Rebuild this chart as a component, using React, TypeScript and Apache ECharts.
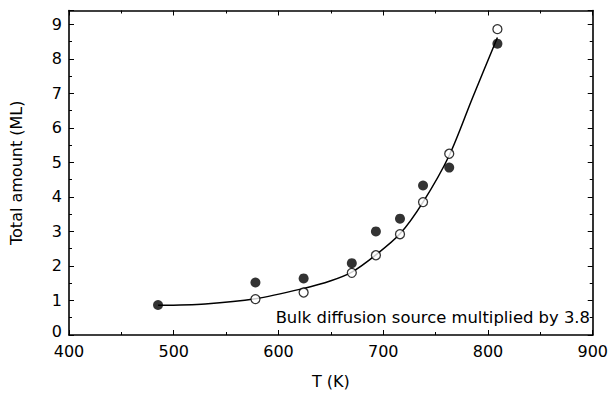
import React, { useEffect, useRef } from "react";
import * as echarts from "echarts";

const filledT = [485, 578, 624, 670, 693, 716, 738, 763, 809];
const filledY = [0.87, 1.52, 1.64, 2.08, 3.0, 3.37, 4.33, 4.85, 8.44];
const openT = [578, 624, 670, 693, 716, 738, 763, 809];
const openY = [1.04, 1.23, 1.8, 2.31, 2.92, 3.85, 5.25, 8.86];
const curveT = [485, 530, 578, 624, 650, 670, 693, 716, 738, 763, 785, 809];
const curveY = [0.86, 0.9, 1.05, 1.35, 1.57, 1.82, 2.32, 2.93, 3.85, 5.2, 6.85, 8.62];
const xTickValues = [400, 500, 600, 700, 800, 900];
const yTickValues = [0, 1, 2, 3, 4, 5, 6, 7, 8, 9];
const annotation = "Bulk diffusion source multiplied by 3.8";

const FONT = "'DejaVu Sans', Verdana, sans-serif";

export default function App() {
  const ref = useRef<HTMLDivElement>(null);
  useEffect(() => {
    if (!ref.current) return;
    const chart = echarts.init(ref.current, undefined, { renderer: "svg" });
    const lineStyle = { color: "#000", width: 1.6 };
    const baseX = {
      type: "value" as const,
      min: 400,
      max: 900,
      interval: 100,
      axisLine: { show: true, onZero: false, lineStyle },
      axisTick: { show: true, inside: true, length: 5, lineStyle: { color: "#000", width: 1 } },
      minorTick: { show: true, splitNumber: 2, length: 3, lineStyle: { color: "#000", width: 1 } },
      splitLine: { show: false },
    };
    const baseY = {
      type: "value" as const,
      min: 0,
      max: 9.4,
      interval: 1,
      axisLine: { show: true, onZero: false, lineStyle },
      axisTick: { show: true, inside: true, length: 5, lineStyle: { color: "#000", width: 1 } },
      minorTick: { show: true, splitNumber: 2, length: 3, lineStyle: { color: "#000", width: 1 } },
      splitLine: { show: false },
    };
    chart.setOption({
      animation: false,
      backgroundColor: "#fff",
      grid: { left: 69, right: 14, top: 10.5, bottom: 52, containLabel: false },
      xAxis: [
        {
          ...baseX,
          position: "bottom",
          name: "T (K)",
          nameLocation: "middle",
          nameGap: 38,
          nameTextStyle: { color: "#000", fontSize: 16, fontFamily: FONT },
          axisLabel: {
            color: "#000",
            fontSize: 16,
            fontFamily: FONT,
            lineHeight: 14,
            margin: 9,
            formatter: (v: number) => (xTickValues.includes(v) ? String(v) : ""),
          },
        },
        { ...baseX, position: "top", axisLabel: { show: false } },
      ],
      yAxis: [
        {
          ...baseY,
          position: "left",
          name: "Total amount (ML)",
          nameLocation: "middle",
          nameGap: 45,
          nameRotate: 90,
          nameTextStyle: { color: "#000", fontSize: 16, fontFamily: FONT },
          axisLabel: {
            color: "#000",
            fontSize: 16,
            fontFamily: FONT,
            lineHeight: 14,
            margin: 7,
            formatter: (v: number) =>
              v === 0 ? "{z|0}" : yTickValues.includes(v) ? String(v) : "",
            rich: {
              z: {
                fontSize: 16,
                fontFamily: FONT,
                color: "#000",
                lineHeight: 12,
                padding: [0, 0, 8, 0],
              },
            },
          },
        },
        { ...baseY, position: "right", axisLabel: { show: false } },
      ],
      graphic: [
        {
          type: "text",
          x: 590,
          y: 317,
          style: {
            text: annotation,
            fill: "#000",
            font: `16.4px ${FONT}`,
            textAlign: "right",
            textVerticalAlign: "middle",
          },
        },
      ],
      series: [
        {
          type: "line",
          data: curveT.map((t, i) => [t, curveY[i]]),
          smooth: 0.3,
          showSymbol: false,
          lineStyle: { color: "#000", width: 1.5 },
          z: 1,
        },
        {
          type: "scatter",
          data: openT.map((t, i) => [t, openY[i]]),
          symbol: "circle",
          symbolSize: 9,
          itemStyle: { color: "#fff", borderColor: "#000", borderWidth: 1.3 },
          z: 3,
        },
        {
          type: "scatter",
          data: filledT.map((t, i) => [t, filledY[i]]),
          symbol: "circle",
          symbolSize: 10,
          itemStyle: { color: "#000" },
          z: 4,
        },
      ],
    });
    return () => chart.dispose();
  }, []);
  return (
    <div
      ref={ref}
      style={{ position: "fixed", left: 0, top: 0, width: 611, height: 394, background: "#fff" }}
    />
  );
}
